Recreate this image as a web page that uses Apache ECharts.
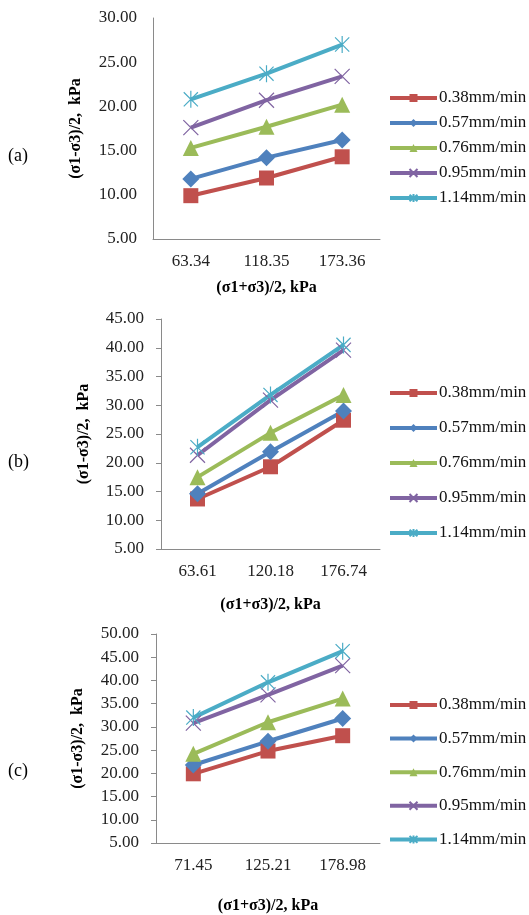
<!DOCTYPE html>
<html>
<head>
<meta charset="utf-8">
<script src="https://cdn.jsdelivr.net/npm/echarts@6/dist/echarts.min.js"></script>
<style>
  html, body { margin: 0; padding: 0; background: #fff; }
  #chart { width: 529px; height: 915px; }
</style>
</head>
<body>
<div id="chart"></div>
<script>
// loading rates (legend)
var rateNames = ['0.38mm/min', '0.57mm/min', '0.76mm/min', '0.95mm/min', '1.14mm/min'];
var rateColors = ['#C0504D', '#4F81BD', '#9BBB59', '#8064A2', '#4BACC6'];

// (a)
var catsA = ['63.34', '118.35', '173.36'];
var valuesA = [
    [9.9, 11.9, 14.3],
    [11.8, 14.2, 16.2],
    [15.3, 17.7, 20.2],
    [17.6, 20.7, 23.4],
    [20.8, 23.7, 27.0]
];
// (b)
var catsB = ['63.61', '120.18', '176.74'];
var valuesB = [
    [13.7, 19.3, 27.4],
    [14.6, 21.9, 29.0],
    [17.5, 25.2, 31.8],
    [21.3, 30.9, 39.6],
    [22.7, 31.8, 40.5]
];
// (c)
var catsC = ['71.45', '125.21', '178.98'];
var valuesC = [
    [19.9, 24.8, 28.1],
    [21.8, 26.9, 31.8],
    [24.2, 31.0, 36.1],
    [30.8, 36.9, 43.2],
    [32.0, 39.6, 46.3]
];

var yMaxes = [30, 45, 50];

var serif = 'Liberation Serif';
var axisGrey = '#8a8a8a';

// marker per series (excel style)
var markers = [
    {symbol: 'rect', size: 15, hollow: false},
    {symbol: 'diamond', size: 17, hollow: false},
    {symbol: 'triangle', size: 16, hollow: false},
    {symbol: 'path://M0,0L10,10M10,0L0,10', size: 15, hollow: true},
    {symbol: 'path://M0,0L10,10M10,0L0,10M5,-1L5,11', size: 17, hollow: true}
];

var grids = [
    {left: 153, top: 18, width: 227, height: 221},
    {left: 161, top: 319, width: 219, height: 230},
    {left: 156, top: 634, width: 224, height: 220}
];

var panelCats = [catsA, catsB, catsC];
var panelVals = [valuesA, valuesB, valuesC];
var xNameGaps = [41, 48, 55];
var yNameGaps = [69, 69, 70];
var legendTops = [84, 379, 691];
var legendGaps = [7, 17, 15.6];
var panelLabels = ['(a)', '(b)', '(c)'];
var panelLabelY = [157, 463, 772];

var xAxes = [], yAxes = [], series = [], legends = [], graphics = [];

for (var p = 0; p < 3; p++) {
    xAxes.push({
        type: 'category',
        gridIndex: p,
        data: panelCats[p],
        boundaryGap: true,
        name: '(σ1+σ3)/2, kPa',
        nameLocation: 'middle',
        nameGap: xNameGaps[p],
        nameTextStyle: {fontFamily: serif, fontSize: 16, fontWeight: 'bold', color: '#000'},
        axisLine: {lineStyle: {color: axisGrey, width: 1}},
        axisTick: {show: false},
        axisLabel: {fontFamily: serif, fontSize: 17, color: '#222', margin: 14},
        splitLine: {show: false}
    });
    yAxes.push({
        type: 'value',
        gridIndex: p,
        min: 5,
        max: yMaxes[p],
        interval: 5,
        name: '(σ1-σ3)/2,  kPa',
        nameLocation: 'middle',
        nameGap: yNameGaps[p],
        nameTextStyle: {fontFamily: serif, fontSize: 16, fontWeight: 'bold', color: '#000'},
        axisLine: {show: true, lineStyle: {color: axisGrey, width: 1}},
        axisTick: {show: p > 0, length: 5, lineStyle: {color: axisGrey}},
        axisLabel: {
            fontFamily: serif, fontSize: 17, color: '#222', margin: p > 0 ? 17 : 16,
            formatter: function (v) { return v.toFixed(2); }
        },
        splitLine: {show: false}
    });
    for (var s = 0; s < rateNames.length; s++) {
        var m = markers[s];
        series.push({
            name: rateNames[s],
            type: 'line',
            xAxisIndex: p,
            yAxisIndex: p,
            data: panelVals[p][s],
            symbol: m.symbol,
            symbolSize: m.size,
            symbolKeepAspect: true,
            showAllSymbol: true,
            lineStyle: {color: rateColors[s], width: 4},
            itemStyle: m.hollow
                ? {color: 'transparent', borderColor: rateColors[s], borderWidth: 1.2}
                : {color: rateColors[s]},
            emphasis: {disabled: true},
            animation: false
        });
    }
    legends.push({
        orient: 'vertical',
        left: 383,
        top: legendTops[p],
        itemWidth: 47,
        itemHeight: 10,
        itemGap: legendGaps[p],
        data: rateNames,
        selectedMode: false,
        lineStyle: {width: 4},
        textStyle: {fontFamily: serif, fontSize: 17, color: '#111', lineHeight: 18, padding: [0, 0, 0, -3]}
    });
    graphics.push({
        type: 'text',
        left: 8,
        top: panelLabelY[p] - 10,
        style: {text: panelLabels[p], font: '18px "Liberation Serif"', fill: '#000'}
    });
}

var chart = echarts.init(document.getElementById('chart'));
chart.setOption({
    backgroundColor: '#fff',
    animation: false,
    grid: grids,
    xAxis: xAxes,
    yAxis: yAxes,
    legend: legends,
    graphic: graphics,
    series: series
});
</script>
</body>
</html>
